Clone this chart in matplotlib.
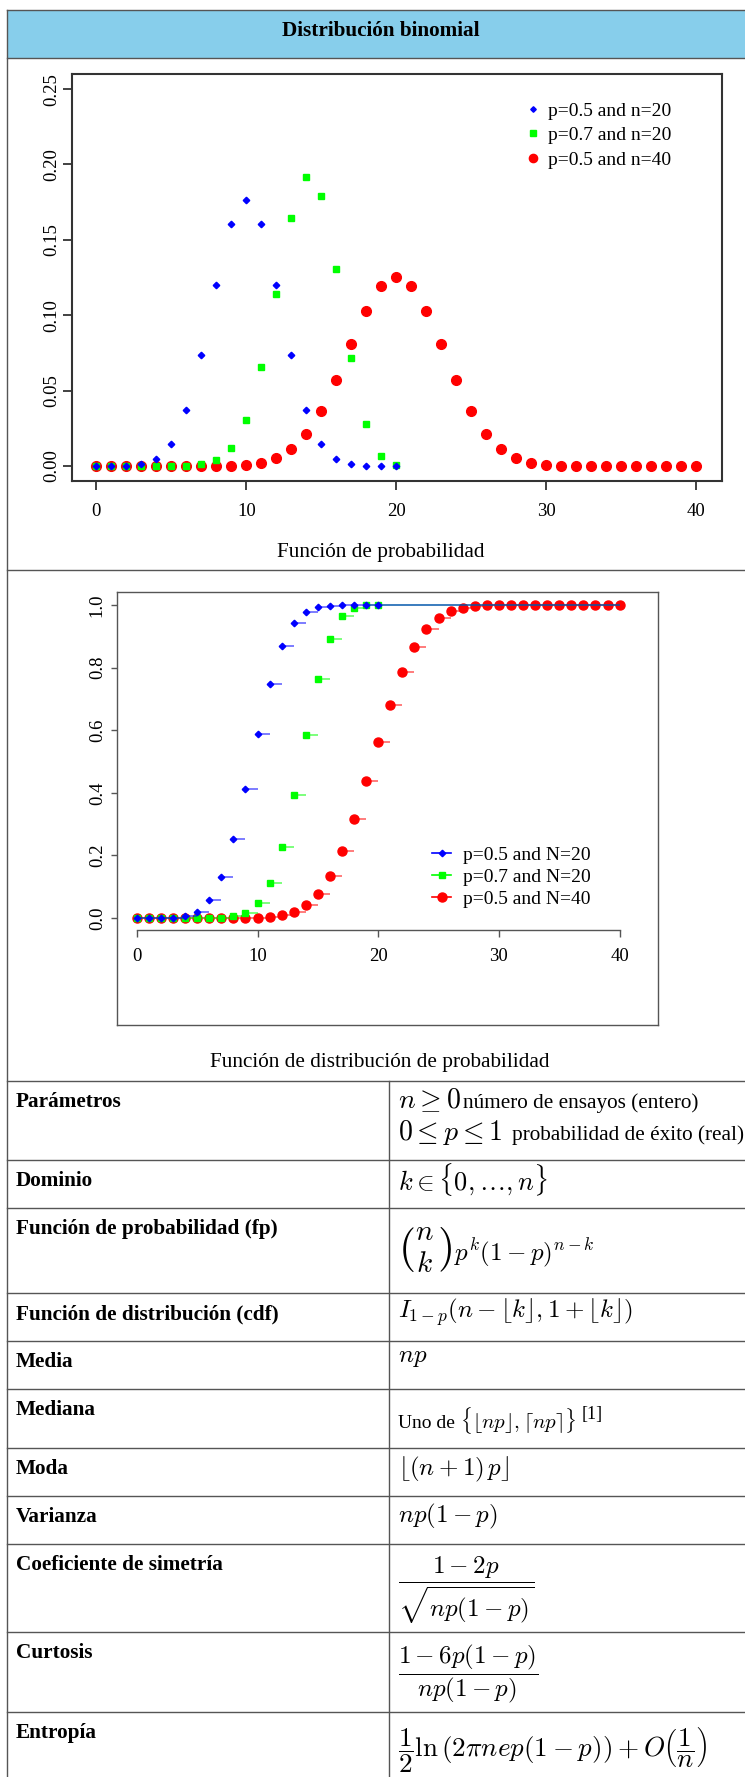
import numpy as np
import matplotlib
matplotlib.use('Agg')
import matplotlib.pyplot as plt
from matplotlib.lines import Line2D
from matplotlib.patches import Rectangle

plt.rcParams['font.family'] = ['Liberation Serif', 'DejaVu Serif']
plt.rcParams['mathtext.fontset'] = 'cm'

# ---------------- data ----------------
k20 = list(range(21))
k40 = list(range(41))

pmf_05_20 = [0.000001, 0.000019, 0.000181, 0.001087, 0.004621, 0.014786, 0.036964,
             0.073929, 0.120134, 0.160179, 0.176197, 0.160179, 0.120134, 0.073929,
             0.036964, 0.014786, 0.004621, 0.001087, 0.000181, 0.000019, 0.000001]
pmf_07_20 = [0.0, 0.0, 0.0, 0.0, 0.000005, 0.000037, 0.000218, 0.001018, 0.003859,
             0.012007, 0.030817, 0.065370, 0.114397, 0.164262, 0.191639, 0.178863,
             0.130421, 0.071604, 0.027846, 0.006839, 0.000798]
pmf_05_40 = [0.0, 0.0, 0.0, 0.0, 0.0000001, 0.0000006, 0.0000035, 0.000017, 0.000070,
             0.000249, 0.000771, 0.002103, 0.005081, 0.010944, 0.021107, 0.036585,
             0.057164, 0.080702, 0.103119, 0.119400, 0.125371, 0.119400, 0.103119,
             0.080702, 0.057164, 0.036585, 0.021107, 0.010944, 0.005081, 0.002103,
             0.000771, 0.000249, 0.000070, 0.000017, 0.0000035, 0.0000006, 0.0000001,
             0.0, 0.0, 0.0, 0.0]

cdf_05_20 = [0.000001, 0.00002, 0.0002, 0.0013, 0.0059, 0.0207, 0.0577, 0.1316, 0.2517,
             0.4119, 0.5881, 0.7483, 0.8684, 0.9423, 0.9793, 0.9941, 0.9987, 0.9998,
             1.0, 1.0, 1.0]
cdf_07_20 = [0.0, 0.0, 0.0, 0.0, 0.000005, 0.00004, 0.00026, 0.00128, 0.00514, 0.01714,
             0.04796, 0.11333, 0.22773, 0.39199, 0.58363, 0.76249, 0.89291, 0.96452,
             0.99236, 0.99920, 1.0]
cdf_05_40 = [0.0, 0.0, 0.0, 0.0, 0.0, 0.000001, 0.000004, 0.00002, 0.00009, 0.00034,
             0.00111, 0.00321, 0.00829, 0.01924, 0.04035, 0.07693, 0.13409, 0.21479,
             0.31791, 0.43731, 0.56269, 0.68209, 0.78521, 0.86591, 0.92307, 0.95965,
             0.98076, 0.99171, 0.99679, 0.99889, 0.99966, 0.99991, 0.99998, 1.0, 1.0,
             1.0, 1.0, 1.0, 1.0, 1.0, 1.0]

pmf_labels = ['p=0.5 and n=20', 'p=0.7 and n=20', 'p=0.5 and n=40']
cdf_labels = ['p=0.5 and N=20', 'p=0.7 and N=20', 'p=0.5 and N=40']
x_ticks = [0, 10, 20, 30, 40]
pmf_yticks = [0.0, 0.05, 0.10, 0.15, 0.20, 0.25]
pmf_yticklabels = ['0.00', '0.05', '0.10', '0.15', '0.20', '0.25']
cdf_yticks = [0.0, 0.2, 0.4, 0.6, 0.8, 1.0]
cdf_yticklabels = ['0.0', '0.2', '0.4', '0.6', '0.8', '1.0']

title = 'Distribución binomial'
caption_pmf = 'Función de probabilidad'
caption_cdf = 'Función de distribución de probabilidad'

row_labels = ['Parámetros', 'Dominio', 'Función de probabilidad (fp)',
              'Función de distribución (cdf)', 'Media', 'Mediana', 'Moda',
              'Varianza', 'Coeficiente de simetría', 'Curtosis', 'Entropía']

# ---------------- layout ----------------
W, H = 745, 1777
fig = plt.figure(figsize=(W / 100, H / 100), dpi=100, facecolor='white')
bg = fig.add_axes([0, 0, 1, 1])
bg.set_xlim(0, W)
bg.set_ylim(H, 0)
bg.axis('off')
renderer = fig.canvas.get_renderer()


def rect(l, t, r, b):
    return [l / W, 1 - b / H, (r - l) / W, (b - t) / H]


def right_edge(txt):
    return txt.get_window_extent(renderer).x1


LC = '#555555'
LW = 1.0
LEFT = 7
# header
bg.add_patch(Rectangle((LEFT, 9.5), W - LEFT + 5, 48.5, facecolor='#87CEEB', edgecolor='none'))
bg.plot([LEFT, W], [9.5, 9.5], color=LC, lw=LW)
bg.plot([LEFT, W], [58, 58], color=LC, lw=LW)
bg.plot([LEFT, LEFT], [9.5, H], color=LC, lw=LW)
bg.text(381, 31, title, ha='center', va='center', fontsize=15.3, fontweight='bold')

# section separators
bg.plot([LEFT, W], [570, 570], color=LC, lw=LW)
bg.text(381, 552, caption_pmf, ha='center', va='center', fontsize=15.3)
bg.text(380, 1062, caption_cdf, ha='center', va='center', fontsize=15.3)

# table
row_tops = [1081, 1160, 1208, 1293, 1341, 1389, 1448, 1496, 1544, 1632, 1712]
for y in row_tops:
    bg.plot([LEFT, W], [y, y], color=LC, lw=LW)
bg.plot([389, 389], [1081, H], color=LC, lw=LW)
for lab, y in zip(row_labels, row_tops):
    bg.text(16, y + 26, lab, ha='left', va='baseline', fontsize=15.3, fontweight='bold')

MS = 18
TX = 398
bg.text(TX, 1108, r'$n \geq 0$', fontsize=20, va='baseline')
bg.text(463, 1108, 'número de ensayos (entero)', fontsize=15.3, va='baseline')
bg.text(TX, 1140, r'$0 \leq p \leq 1$', fontsize=20, va='baseline')
bg.text(512, 1140, 'probabilidad de éxito (real)', fontsize=15.3, va='baseline')
bg.text(TX, 1190, r'$k \in \{0,\ldots,n\}$', fontsize=19, va='baseline')
t_binom = bg.text(TX, 1250, r'$\binom{n}{k}$', fontsize=30, va='center')
bg.text(right_edge(t_binom) + 1, 1260, r'$p^k(1-p)^{n-k}$', fontsize=MS, va='baseline')
bg.text(TX, 1318, r'$I_{1-p}(n-\lfloor k\rfloor,1+\lfloor k\rfloor)$', fontsize=MS, va='baseline')
bg.text(TX, 1362, r'$np$', fontsize=MS, va='baseline')
bg.text(TX, 1428, 'Uno de', fontsize=14, va='baseline')
t_med = bg.text(460, 1428, r'$\{\lfloor np\rfloor,\lceil np\rceil\}$', fontsize=15, va='baseline')
bg.text(right_edge(t_med) + 5, 1419, '[1]', fontsize=13, va='baseline')
bg.text(TX, 1475, r'$\lfloor(n+1)\,p\rfloor$', fontsize=MS, va='baseline')
bg.text(TX, 1522, r'$np(1-p)$', fontsize=MS, va='baseline')
bg.text(TX, 1590, r'$\dfrac{1-2p}{\sqrt{np(1-p)}}$', fontsize=MS, va='center')
bg.text(TX, 1674, r'$\dfrac{1-6p(1-p)}{np(1-p)}$', fontsize=MS, va='center')
bg.text(TX, 1750, r'$\dfrac{1}{2}\ln\left(2\pi nep(1-p)\right)+O\left(\dfrac{1}{n}\right)$',
        fontsize=19.5, va='center')

BLUE, GREEN, RED = '#0000FF', '#00FF00', '#FF0000'

# ---------------- PMF plot ----------------
ax1 = fig.add_axes(rect(72, 74, 722, 481))
r_, = ax1.plot(k40, pmf_05_40, ls='none', marker='o', ms=7, color=RED, mec=RED, label=pmf_labels[2])
g_, = ax1.plot(k20, pmf_07_20, ls='none', marker='s', ms=4.6, color=GREEN, mec=GREEN, label=pmf_labels[1])
b_, = ax1.plot(k20, pmf_05_20, ls='none', marker='D', ms=3.3, color=BLUE, mec=BLUE, label=pmf_labels[0])
ax1.set_xlim(-1.62, 41.7)
ax1.set_ylim(-0.00995, 0.26)
ax1.set_xticks(x_ticks)
ax1.set_xticklabels([str(v) for v in x_ticks])
ax1.set_yticks(pmf_yticks)
ax1.set_yticklabels(pmf_yticklabels, rotation=90, va='center')
for s in ax1.spines.values():
    s.set_color('#333333')
    s.set_linewidth(1.5)
ax1.tick_params(axis='both', length=6.5, width=1.3, color='#333333', labelsize=13.5)
ax1.tick_params(axis='x', pad=9)
ax1.tick_params(axis='y', pad=2)
ax1.legend(handles=[b_, g_, r_], loc='upper left',
           bbox_to_anchor=(523 / W, 1 - 102 / H), bbox_transform=fig.transFigure,
           frameon=False, fontsize=14, borderpad=0, borderaxespad=0,
           handlelength=1.0, handletextpad=0.3, labelspacing=0.36, markerscale=0.85)

# ---------------- CDF plot ----------------
ax2 = fig.add_axes(rect(117, 592, 658, 1025))
series = [(k40, cdf_05_40, RED, 'o', 6.5, 40),
          (k20, cdf_07_20, GREEN, 's', 4.6, 20),
          (k20, cdf_05_20, BLUE, 'D', 3.3, 20)]
handles = {}
for ks, cs, col, mk, ms, n in series:
    ks_a = np.array(ks)
    xmax = np.where(ks_a < n, ks_a + 1, 40)
    ax2.hlines(cs, ks_a, xmax, colors=col, lw=1.2, alpha=0.6)
    ax2.plot(ks, cs, ls='none', marker=mk, ms=ms, color=col, mec=col)
    handles[col] = Line2D([], [], color=col, marker=mk, ms=ms, lw=1.2)
ax2.set_xlim(-1.64, 43.18)
ax2.set_ylim(-0.342, 1.042)
ax2.spines['bottom'].set_position(('data', -0.0383))
ax2.spines['bottom'].set_bounds(0, 40)
for s in ax2.spines.values():
    s.set_color(LC)
    s.set_linewidth(1.0)
ax2.plot([0, 1], [0, 0], transform=ax2.transAxes, color=LC, lw=1.0, clip_on=False)
ax2.set_xticks(x_ticks)
ax2.set_xticklabels([str(v) for v in x_ticks])
ax2.set_yticks(cdf_yticks)
ax2.set_yticklabels(cdf_yticklabels, rotation=90, va='center')
ax2.tick_params(axis='both', color=LC, width=1.0, labelsize=13.5)
ax2.tick_params(axis='x', length=5, pad=8)
ax2.tick_params(axis='y', length=4.5, pad=3.5)
ax2.legend(handles=[handles[BLUE], handles[GREEN], handles[RED]], labels=cdf_labels,
           loc='upper left', bbox_to_anchor=(432 / W, 1 - 846 / H),
           bbox_transform=fig.transFigure, frameon=False, fontsize=14, borderpad=0,
           borderaxespad=0, handlelength=1.0, handletextpad=0.6, labelspacing=0.24)

fig.savefig('out.png', dpi=100, facecolor='white')
